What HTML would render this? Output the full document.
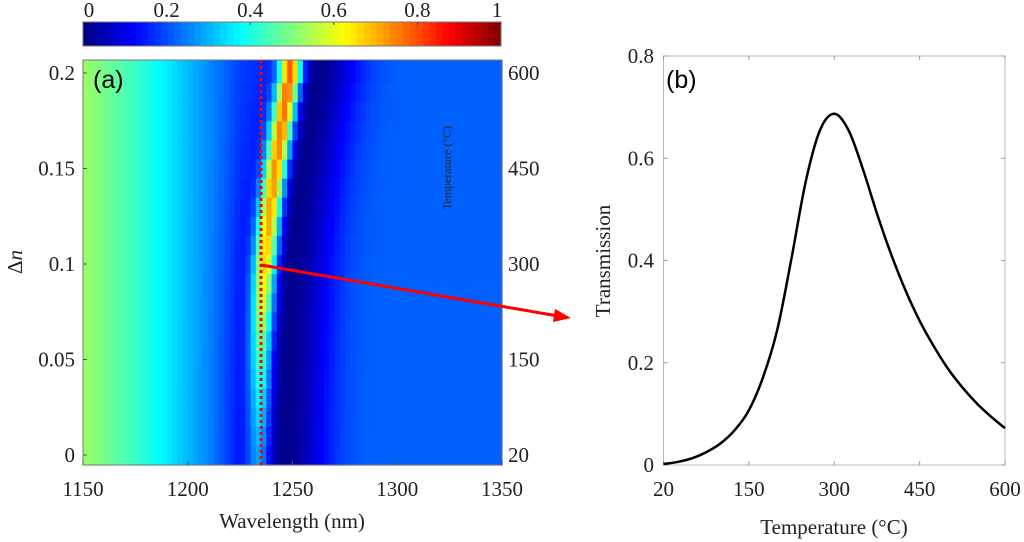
<!DOCTYPE html>
<html><head><meta charset="utf-8"><style>
body{margin:0;background:#fff;}
svg{display:block;font-family:"Liberation Serif",serif;}
text{font-family:"Liberation Serif",serif;}
</style></head><body>
<svg id="fig" width="1024" height="542" viewBox="0 0 1024 542"></svg>
<script>
// ---- panel (a) data ----
const dnRows = [0,0.01,0.02,0.03,0.04,0.05,0.06,0.07,0.08,0.09,0.1,0.11,0.12,0.13,0.14,0.15,0.16,0.17,0.18,0.19,0.2];
const peakWl = [1234,1234.2,1234.4,1234.6,1234.8,1235,1235.3,1235.6,1236,1236.4,1237,1237.8,1238.6,1239.6,1240.7,1242,1243.3,1244.7,1246,1247.5,1249];
const peakAmp = [0.22,0.24,0.27,0.3,0.34,0.38,0.42,0.47,0.52,0.56,0.6,0.62,0.64,0.65,0.66,0.67,0.68,0.69,0.7,0.71,0.72];
const bgWl = [1150,1175,1200,1215,1225,1250,1275,1300,1350];
const bgVal = [0.53,0.43,0.31,0.24,0.19,0.2,0.22,0.22,0.22];
const xTicksA = [1150,1200,1250,1300,1350];
const yTicksA = [0,0.05,0.1,0.15,0.2];
const tempTicksA = [0,150,300,450,600];
const tempLabelsA = ["20","150","300","450","600"];
const cbTicks = [0,0.2,0.4,0.6,0.8,1];
const markWl = 1235;
// ---- panel (b) data ----
const tempB = [0,25,50,75,100,125,150,175,200,225,250,275,300,325,350,375,400,425,450,475,500,525,550,575,600];
const transB = [0.002,0.006,0.013,0.025,0.042,0.068,0.107,0.172,0.265,0.405,0.555,0.655,0.687,0.655,0.58,0.492,0.412,0.342,0.282,0.232,0.188,0.152,0.121,0.095,0.072];
const xTicksB = [0,150,300,450,600];
const xLabelsB = ["20","150","300","450","600"];
const yTicksB = [0,0.2,0.4,0.6,0.8];

const NS="http://www.w3.org/2000/svg";
const svg=document.getElementById('fig');
function mk(tag,attrs,parent){const e=document.createElementNS(NS,tag);for(const k in attrs)e.setAttribute(k,attrs[k]);if(tag==='text'&&!attrs.style)e.setAttribute('font-family','Liberation Serif, serif');(parent||svg).appendChild(e);return e;}
function jet(v){v=Math.max(0,Math.min(1,v));
 const r=Math.max(0,Math.min(1,1.5-Math.abs(4*v-3))),g=Math.max(0,Math.min(1,1.5-Math.abs(4*v-2))),b=Math.max(0,Math.min(1,1.5-Math.abs(4*v-1)));
 return `rgb(${Math.round(r*255)},${Math.round(g*255)},${Math.round(b*255)})`;}
function interp(xs,ys,x){if(x<=xs[0])return ys[0];for(let i=1;i<xs.length;i++){if(x<=xs[i]){const t=(x-xs[i-1])/(xs[i]-xs[i-1]);return ys[i-1]+t*(ys[i]-ys[i-1]);}}return ys[ys.length-1];}

const ax={x0:83,x1:502,y0:60,y1:465};
const X=w=>ax.x0+(w-1150)/200*(ax.x1-ax.x0);
const Y=d=>455-d/0.2*382;
const YT=t=>455-t/600*382;

const heat=mk('g',{});


const dw=2.5;
for(let r=0;r<dnRows.length;r++){
  const yt=Y(dnRows[r]+0.005), yb=Y(dnRows[r]-0.005);
  const yTop = r===dnRows.length-1?ax.y0:yt, yBot = r===0?ax.y1:yb;
  for(let w=1150;w<1350;w+=dw){
    const lam=w+dw/2, p=peakWl[r];
    let v=interp(bgWl,bgVal,lam)*(1-0.95*Math.exp(-Math.pow((lam-(p+12))/20,2)))+peakAmp[r]*Math.exp(-Math.pow((lam-p)/5.5,2));
    const c=mk('rect',{x:X(w),y:yTop,width:X(w+dw)-X(w)+0.6,height:yBot-yTop+0.6,fill:jet(v)},heat);
    
    
  }
}
const frA=mk('rect',{x:ax.x0,y:ax.y0,width:ax.x1-ax.x0,height:ax.y1-ax.y0,fill:'none',stroke:'#777','stroke-width':1});

xTicksA.forEach(t=>{mk('line',{x1:X(t),x2:X(t),y1:ax.y1,y2:ax.y1-4,stroke:'#555'});
 const l=mk('text',{x:X(t),y:496,'font-size':21,'text-anchor':'middle',fill:'#222'});l.textContent=t;
 });
yTicksA.forEach(t=>{mk('line',{x1:ax.x0,x2:ax.x0+4,y1:Y(t),y2:Y(t),stroke:'#555'});
 const l=mk('text',{x:75,y:Y(t)+7,'font-size':21,'text-anchor':'end',fill:'#222'});l.textContent=t;
 });
tempTicksA.forEach((t,i)=>{mk('line',{x1:ax.x1,x2:ax.x1-4,y1:YT(t),y2:YT(t),stroke:'#555'});
 const l=mk('text',{x:508,y:YT(t)+7,'font-size':21,'text-anchor':'start',fill:'#222'});l.textContent=tempLabelsA[i];
 });
let t=mk('text',{x:292,y:528,'font-size':21,'text-anchor':'middle',fill:'#222'});t.textContent='Wavelength (nm)';

t=mk('text',{x:0,y:0,'font-size':21,'text-anchor':'middle',fill:'#222',transform:'translate(22,262) rotate(-90)'});
t.innerHTML='Δ<tspan font-style="italic">n</tspan>';

t=mk('text',{x:0,y:0,'font-size':12,'text-anchor':'middle',fill:'#222',transform:'translate(451,168) rotate(-90)'});t.textContent='Temperature (°C)';

t=mk('text',{x:93,y:88,'font-size':25,fill:'#000',style:'font-family:"Liberation Sans",sans-serif'});t.textContent='(a)';

let dl=mk('line',{x1:X(markWl),x2:X(markWl),y1:ax.y0,y2:ax.y1,stroke:'#f00','stroke-width':3,'stroke-dasharray':'3 3'});

const ar=mk('g',{});
mk('line',{x1:X(markWl),y1:265,x2:558,y2:316,stroke:'#f00','stroke-width':3},ar);
mk('polygon',{points:'571,318 555,309 553,322',fill:'#f00'},ar);
const cb=mk('g',{});
const cbx0=83,cbx1=501;
for(let i=0;i<64;i++){mk('rect',{x:cbx0+i*(cbx1-cbx0)/64,y:22,width:(cbx1-cbx0)/64+0.5,height:24,fill:jet((i+0.5)/64)},cb);}
mk('rect',{x:cbx0,y:22,width:cbx1-cbx0,height:24,fill:'none',stroke:'#777'},cb);
cbTicks.forEach(v=>{const x=cbx0+v*(cbx1-cbx0);mk('line',{x1:x,x2:x,y1:22,y2:25,stroke:'#555'},cb);
 const l=mk('text',{x:v===0?x+6:(v===1?x-4:x),y:17,'font-size':21,'text-anchor':'middle',fill:'#222'},cb);l.textContent=v;
 });

const bx={x0:663.5,x1:1005,y0:56,y1:465};
const XB=v=>bx.x0+v/600*(bx.x1-bx.x0);
const YB=v=>bx.y1-v/0.8*(bx.y1-bx.y0);
const frB=mk('rect',{x:bx.x0,y:bx.y0,width:bx.x1-bx.x0,height:bx.y1-bx.y0,fill:'none',stroke:'#bbb'});

xTicksB.forEach((v,i)=>{mk('line',{x1:XB(v),x2:XB(v),y1:bx.y1,y2:bx.y1-4,stroke:'#999'});mk('line',{x1:XB(v),x2:XB(v),y1:bx.y0,y2:bx.y0+4,stroke:'#999'});
 const l=mk('text',{x:XB(v),y:496,'font-size':21,'text-anchor':'middle',fill:'#222'});l.textContent=xLabelsB[i];
 });
yTicksB.forEach(v=>{mk('line',{x1:bx.x0,x2:bx.x0+4,y1:YB(v),y2:YB(v),stroke:'#999'});mk('line',{x1:bx.x1,x2:bx.x1-4,y1:YB(v),y2:YB(v),stroke:'#999'});
 const l=mk('text',{x:654,y:YB(v)+7,'font-size':21,'text-anchor':'end',fill:'#222'});l.textContent=v;
 });
t=mk('text',{x:834,y:534,'font-size':21,'text-anchor':'middle',fill:'#222'});t.textContent='Temperature (°C)';

t=mk('text',{x:0,y:0,'font-size':21,'text-anchor':'middle',fill:'#222',transform:'translate(610,261) rotate(-90)'});t.textContent='Transmission';

t=mk('text',{x:666,y:88,'font-size':25,fill:'#000',style:'font-family:"Liberation Sans",sans-serif'});t.textContent='(b)';

const pts=tempB.map((v,i)=>[XB(v),YB(transB[i])]);
let d=`M${pts[0][0]},${pts[0][1]}`;
for(let i=0;i<pts.length-1;i++){const p0=pts[i-1]||pts[i],p1=pts[i],p2=pts[i+1],p3=pts[i+2]||p2;
 d+=` C${p1[0]+(p2[0]-p0[0])/6},${p1[1]+(p2[1]-p0[1])/6} ${p2[0]-(p3[0]-p1[0])/6},${p2[1]-(p3[1]-p1[1])/6} ${p2[0]},${p2[1]}`;}
const cv=mk('path',{d:d,fill:'none',stroke:'#000','stroke-width':2.5});

</script>
</body></html>
